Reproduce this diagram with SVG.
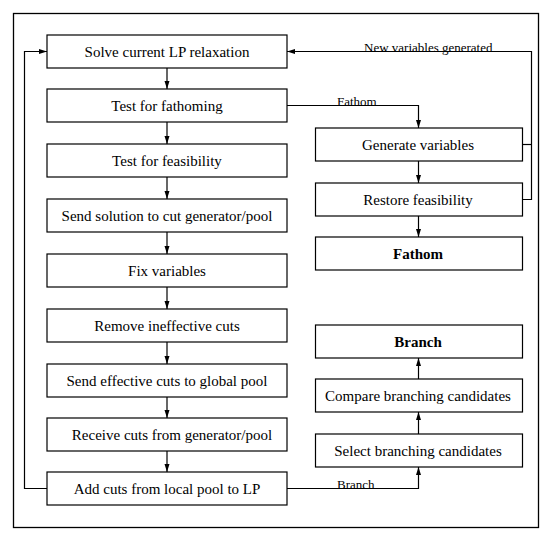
<svg xmlns="http://www.w3.org/2000/svg" width="552" height="541" viewBox="0 0 552 541">
<style>
.frame{fill:none;stroke:#000;stroke-width:1.3}
.box{fill:#fff;stroke:#000;stroke-width:1.2}
.t{font-family:"Liberation Serif","Times New Roman","DejaVu Serif",serif;font-size:15px;fill:#000;text-anchor:middle}
.b{font-weight:bold}
.e{fill:none;stroke:#000;stroke-width:1.2}
.el{font-family:"Liberation Serif","Times New Roman","DejaVu Serif",serif;font-size:13px;fill:#000}
</style>
<defs>
<marker id="ah" markerWidth="8" markerHeight="6" refX="8" refY="3" orient="auto" markerUnits="userSpaceOnUse">
<path d="M0,0.5 L8,3 L0,5.5 z" fill="#000"/>
</marker>
</defs>
<rect fill="#fff" x="0" y="0" width="552" height="541"/>
<rect class="frame" x="13.5" y="13.5" width="525" height="514"/>
<g id="connectors">
<path class="e" d="M167,68 V89" marker-end="url(#ah)"/>
<path class="e" d="M167,122 V144" marker-end="url(#ah)"/>
<path class="e" d="M167,177 V199" marker-end="url(#ah)"/>
<path class="e" d="M167,232 V254" marker-end="url(#ah)"/>
<path class="e" d="M167,287 V309" marker-end="url(#ah)"/>
<path class="e" d="M167,342 V364" marker-end="url(#ah)"/>
<path class="e" d="M167,397 V418" marker-end="url(#ah)"/>
<path class="e" d="M167,451 V472" marker-end="url(#ah)"/>
<path class="e" d="M47,488.5 H24.5 V51.5 H47" marker-end="url(#ah)"/>
<path class="e" d="M287,105.5 H418.5 V128" marker-end="url(#ah)"/>
<path class="e" d="M418.5,161 V183" marker-end="url(#ah)"/>
<path class="e" d="M418.5,216 V237" marker-end="url(#ah)"/>
<path class="e" d="M523,199.5 H531.5 V51.5 H287" marker-end="url(#ah)"/>
<path class="e" d="M523,144.5 H531.5"/>
<path class="e" d="M287,488.5 H418.5 V467" marker-end="url(#ah)"/>
<path class="e" d="M418.5,434 V412" marker-end="url(#ah)"/>
<path class="e" d="M418.5,379 V358" marker-end="url(#ah)"/>
<text class="el" x="364" y="51.5">New variables generated</text>
<text class="el" x="337" y="105.5">Fathom</text>
<text class="el" x="337" y="488.5">Branch</text>
</g>
<g id="solve"><rect class="box" x="47" y="35" width="240" height="33"/><text class="t" x="167" y="57">Solve current LP relaxation</text></g>
<g id="fathoming"><rect class="box" x="47" y="89" width="240" height="33"/><text class="t" x="167" y="111">Test for fathoming</text></g>
<g id="feasibility"><rect class="box" x="47" y="144" width="240" height="33"/><text class="t" x="167" y="166">Test for feasibility</text></g>
<g id="sendsol"><rect class="box" x="47" y="199" width="240" height="33"/><text class="t" x="167" y="221">Send solution to cut generator/pool</text></g>
<g id="fix"><rect class="box" x="47" y="254" width="240" height="33"/><text class="t" x="167" y="276">Fix variables</text></g>
<g id="remove"><rect class="box" x="47" y="309" width="240" height="33"/><text class="t" x="167" y="331">Remove ineffective cuts</text></g>
<g id="sendeff"><rect class="box" x="47" y="364" width="240" height="33"/><text class="t" x="167" y="386">Send effective cuts to global pool</text></g>
<g id="receive"><rect class="box" x="47" y="418" width="240" height="33"/><text class="t" x="172" y="440">Receive cuts from generator/pool</text></g>
<g id="addcuts"><rect class="box" x="47" y="472" width="240" height="33"/><text class="t" x="167" y="494">Add cuts from local pool to LP</text></g>
<g id="genvars"><rect class="box" x="315.5" y="128" width="207" height="33"/><text class="t" x="418" y="150">Generate variables</text></g>
<g id="restore"><rect class="box" x="315.5" y="183" width="207" height="33"/><text class="t" x="418" y="205">Restore feasibility</text></g>
<g id="fathom"><rect class="box" x="315.5" y="237" width="207" height="33"/><text class="t b" x="418" y="259">Fathom</text></g>
<g id="branch"><rect class="box" x="315.5" y="325" width="207" height="33"/><text class="t b" x="418" y="347">Branch</text></g>
<g id="compare"><rect class="box" x="315.5" y="379" width="207" height="33"/><text class="t" x="418" y="401">Compare branching candidates</text></g>
<g id="select"><rect class="box" x="315.5" y="434" width="207" height="33"/><text class="t" x="418" y="456">Select branching candidates</text></g>
</svg>
